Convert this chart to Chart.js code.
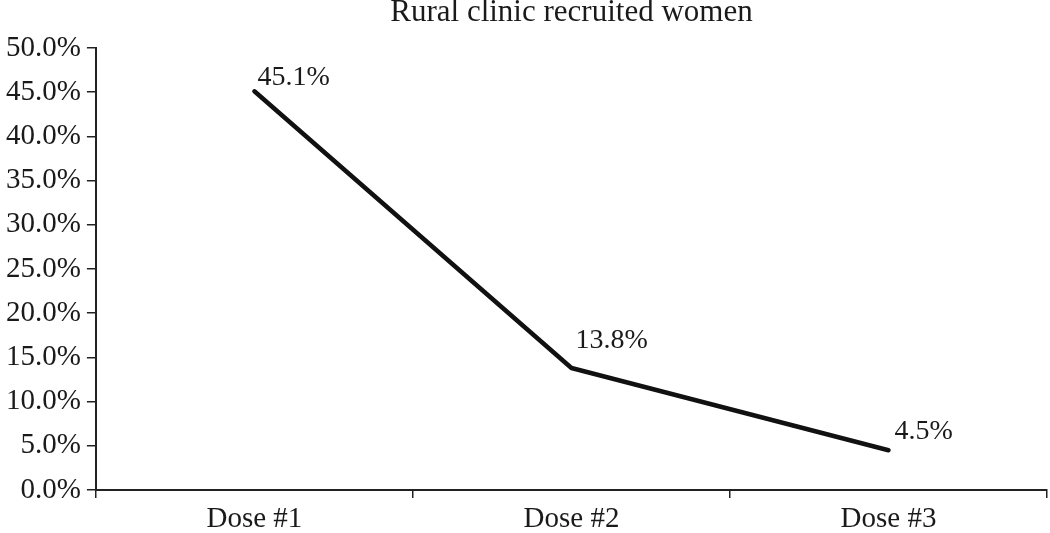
<!DOCTYPE html>
<html lang="en">
<head>
<meta charset="UTF-8" />
<title>Rural clinic recruited women</title>
<script src="https://cdn.jsdelivr.net/npm/chart.js"></script>
<style>
  body { margin: 0; background: #fff; }
  #grafico { display: block; }
</style>
</head>
<body>
<canvas id="grafico" width="1050" height="533"></canvas>

<script>
  // dados do grafico
  const doses = ["Dose #1", "Dose #2", "Dose #3"]
  const percentuais = [45.1, 13.8, 4.5]
  const titulo = "Rural clinic recruited women"
  const yMin = 0
  const yMax = 50
  const yPasso = 5

  const corTexto = "#1a1a1a"
  const fonte = "'Liberation Serif', 'Times New Roman', serif"

  // desenha o titulo e os rotulos de cada ponto
  const rotulos = {
    id: "rotulos",
    afterDatasetsDraw(chart, args, opts) {
      const ctx = chart.ctx
      const meta = chart.getDatasetMeta(0)
      ctx.save()
      ctx.font = "28px " + fonte
      ctx.fillStyle = corTexto
      ctx.textAlign = "left"
      ctx.textBaseline = "alphabetic"
      meta.data.forEach(function (pt, i) {
        const off = opts.deslocamentos[i]
        ctx.fillText(percentuais[i].toFixed(1) + "%", pt.x + off[0], pt.y + off[1])
      })

      const area = chart.chartArea
      ctx.font = "31px " + fonte
      ctx.textAlign = "center"
      ctx.fillText(titulo, (area.left + area.right) / 2, 21)
      ctx.restore()
    }
  }

  const ctx = document.getElementById("grafico").getContext("2d")

  new Chart(ctx, {
    type: "line",
    data: {
      labels: doses,
      datasets: [
        {
          data: percentuais,
          borderColor: "#111",
          borderWidth: 4.5,
          borderCapStyle: "round",
          borderJoinStyle: "round",
          pointRadius: 0,
          tension: 0,
          fill: false
        }
      ]
    },
    options: {
      responsive: false,
      animation: false,
      layout: { padding: { top: 48, left: 0, right: 3, bottom: -8 } },
      scales: {
        x: {
          offset: true,
          grid: { offset: true, drawOnChartArea: false, tickLength: 8, color: "#222", lineWidth: 1.5 },
          border: { color: "#222", width: 2 },
          ticks: { color: corTexto, padding: 7, font: { family: fonte, size: 29, lineHeight: 1 } }
        },
        y: {
          min: yMin,
          max: yMax,
          ticks: {
            stepSize: yPasso,
            color: corTexto,
            padding: 6,
            font: { family: fonte, size: 29, lineHeight: 1 },
            callback: function (v) { return v.toFixed(1) + "%" }
          },
          grid: { drawOnChartArea: false, tickLength: 9, color: "#222", lineWidth: 1.5 },
          border: { color: "#222", width: 2 }
        }
      },
      plugins: {
        legend: { display: false },
        tooltip: { enabled: false },
        rotulos: { deslocamentos: [[3, -6], [4, -20], [6, -11]] }
      }
    },
    plugins: [rotulos]
  })
</script>
</body>
</html>
